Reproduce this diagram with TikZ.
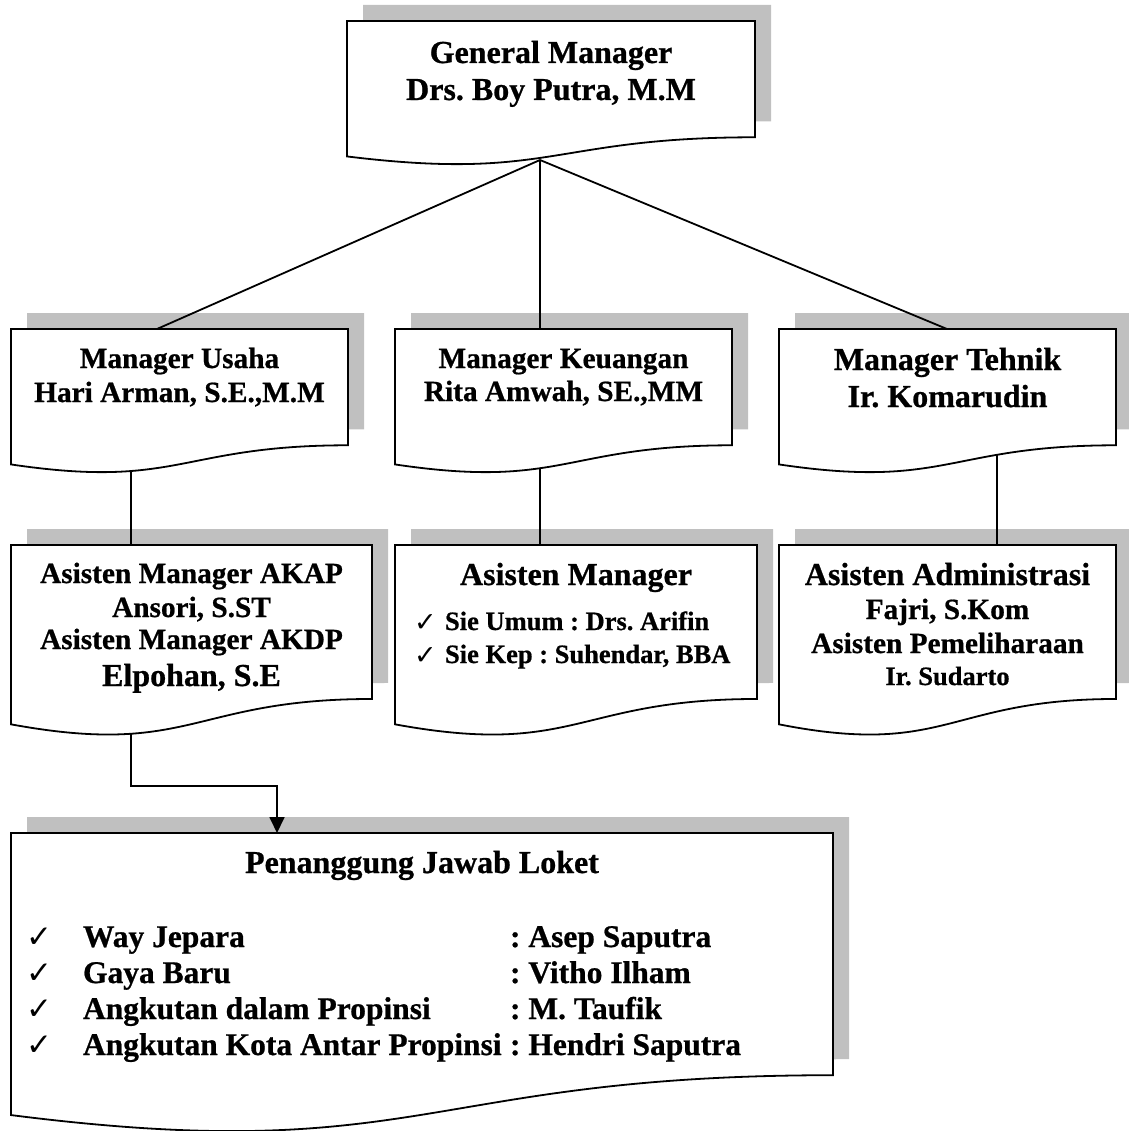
\documentclass[tikz,border=0pt]{standalone}
\usepackage{fontspec}
\setmainfont{Liberation Serif}[FakeBold=0.7]
\newfontfamily\symfont{DejaVu Sans}
\usetikzlibrary{arrows.meta}
\definecolor{shadowgray}{HTML}{C0C0C0}
\pgfdeclarelayer{shadowlayer}
\pgfdeclarelayer{linelayer}
\pgfsetlayers{shadowlayer,linelayer,main}

\tikzset{
  boxline/.style={draw=black, line width=1.8pt, fill=white, line join=miter},
  conn/.style={draw=black, line width=1.8pt},
  lbl/.style={anchor=base, inner sep=0pt, outer sep=0pt},
  lblw/.style={anchor=base west, inner sep=0pt, outer sep=0pt},
  fA/.style={font=\fontsize{32}{36}\selectfont\bfseries\frenchspacing},
  fB/.style={font=\fontsize{29.3}{33}\selectfont\bfseries\frenchspacing},
  fC/.style={font=\fontsize{26.5}{30}\selectfont\bfseries\frenchspacing},
  fD/.style={font=\fontsize{31.5}{35}\selectfont\bfseries\frenchspacing},
  ckS/.style={font=\fontsize{27}{29}\selectfont\symfont},
  ckL/.style={font=\fontsize{31}{33}\selectfont\symfont},
}

% #1 name, #2 x1, #3 y1 (top), #4 x2, #5 frame height
\newcommand{\docbox}[5]{%
  \begin{pgfonlayer}{shadowlayer}
    \fill[shadowgray,shift={(16,-16)}] (#2,#3) -- (#4,#3) -- (#4,{#3+0.802*#5})
      .. controls ({(#2+#4)/2},{#3+0.802*#5}) and ({(#2+#4)/2},{#3+1.107*#5}) ..
      (#2,{#3+0.934*#5}) -- cycle;
  \end{pgfonlayer}
  \draw[boxline] (#2,#3) -- (#4,#3) -- (#4,{#3+0.802*#5})
      .. controls ({(#2+#4)/2},{#3+0.802*#5}) and ({(#2+#4)/2},{#3+1.107*#5}) ..
      (#2,{#3+0.934*#5}) -- cycle;
  \coordinate (#1) at ({(#2+#4)/2},{#3+0.5*#5});
}

\begin{document}
\begin{tikzpicture}[x=1pt,y=-1pt]
\useasboundingbox (0,0) rectangle (1128,1131);

% ---------- boxes ----------
\docbox{gm}{347}{21}{755}{145}
\docbox{mu}{11}{329}{348}{145}
\docbox{mk}{395}{329}{732}{145}
\docbox{mt}{779}{329}{1116}{145}
\docbox{aa}{11}{545}{372}{192}
\docbox{am}{395}{545}{757}{192}
\docbox{ad}{779}{545}{1116}{192}
\docbox{pj}{11}{833}{833}{302}

% ---------- connector end points ----------
\coordinate (gmb) at (540,160);
\coordinate (mut) at (157,329);
\coordinate (mkt) at (540,329);
\coordinate (mtt) at (947,329);
\coordinate (mub) at (131,460);
\coordinate (aat) at (131,545);
\coordinate (mkb) at (540,445);
\coordinate (amt) at (540,545);
\coordinate (mtb) at (997,440);
\coordinate (adt) at (997,545);
\coordinate (aab) at (131,725);
\coordinate (elbow) at (277,786);
\coordinate (pjt) at (277,833);

\begin{pgfonlayer}{linelayer}
  \draw[conn] (gmb) -- (mut);
  \draw[conn] (gmb) -- (mkt);
  \draw[conn] (gmb) -- (mtt);
  \draw[conn] (mub) -- (aat);
  \draw[conn] (mkb) -- (amt);
  \draw[conn] (mtb) -- (adt);
  \draw[conn,-{Triangle[width=15pt,length=16pt]}] (aab) |- (elbow) -- (pjt);
\end{pgfonlayer}

% ---------- texts ----------
\node[lbl,fA] (gm1) at (551,63) {General Manager};
\node[lbl,fA] (gm2) at (551,100) {Drs. Boy Putra, M.M};

\node[lbl,fB] (mu1) at (179.5,368) {Manager Usaha};
\node[lbl,fB] (mu2) at (179.5,402) {Hari Arman, S.E.,M.M};

\node[lbl,fB] (mk1) at (563.5,368) {Manager Keuangan};
\node[lbl,fB] (mk2) at (563.5,401) {Rita Amwah, SE.,MM};

\node[lbl,fA] (mt1) at (947.5,370) {Manager Tehnik};
\node[lbl,fA] (mt2) at (947.5,407) {Ir. Komarudin};

\node[lbl,fB] (aa1) at (191.5,583) {Asisten Manager AKAP};
\node[lbl,fB] (aa2) at (191.5,617) {Ansori, S.ST};
\node[lbl,fB] (aa3) at (191.5,649) {Asisten Manager AKDP};
\node[lbl,fA] (aa4) at (191.5,686) {Elpohan, S.E};

\node[lbl,fA] (am1) at (576,585) {Asisten Manager};
\node[lblw,ckS] (amc1) at (414,631) {✓};
\node[lblw,fC] (am2) at (445,630) {Sie Umum : Drs. Arifin};
\node[lblw,ckS] (amc2) at (414,664) {✓};
\node[lblw,fC] (am3) at (445,663) {Sie Kep : Suhendar, BBA};

\node[lbl,fA] (ad1) at (947.5,585) {Asisten Administrasi};
\node[lbl,fB] (ad2) at (947.5,619) {Fajri, S.Kom};
\node[lbl,fB] (ad3) at (947.5,653) {Asisten Pemeliharaan};
\node[lbl,fC] (ad4) at (947.5,685) {Ir. Sudarto};

\node[lbl,fA] (pj0) at (422,873) {Penanggung Jawab Loket};

\node[lblw,ckL] (pc1) at (26,947) {✓};
\node[lblw,fD] (pl1) at (83,947) {Way Jepara};
\node[lblw,fD] (pr1) at (510,947) {: Asep Saputra};

\node[lblw,ckL] (pc2) at (26,983) {✓};
\node[lblw,fD] (pl2) at (83,983) {Gaya Baru};
\node[lblw,fD] (pr2) at (510,983) {: Vitho Ilham};

\node[lblw,ckL] (pc3) at (26,1019) {✓};
\node[lblw,fD] (pl3) at (83,1019) {Angkutan dalam Propinsi};
\node[lblw,fD] (pr3) at (510,1019) {: M. Taufik};

\node[lblw,ckL] (pc4) at (26,1055) {✓};
\node[lblw,fD] (pl4) at (83,1055) {Angkutan Kota Antar Propinsi};
\node[lblw,fD] (pr4) at (510,1055) {: Hendri Saputra};

\end{tikzpicture}
\end{document}
